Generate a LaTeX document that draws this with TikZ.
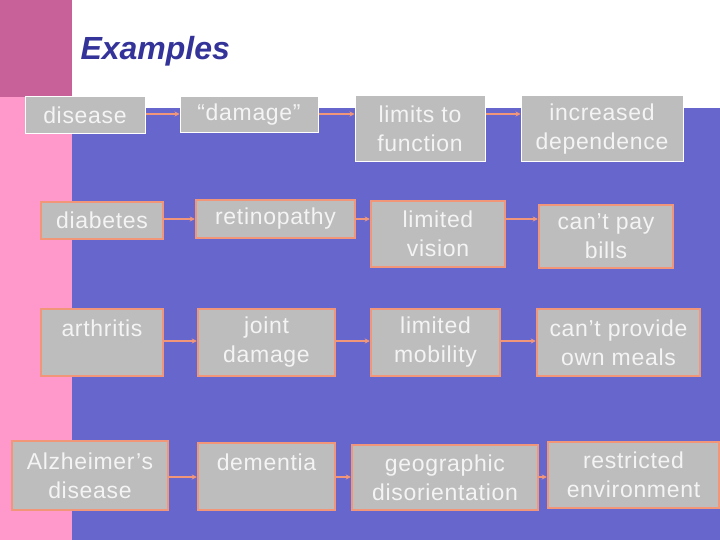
\documentclass[tikz,border=0pt]{standalone}
\usepackage{fontspec}
\setmainfont{Liberation Sans}
\usetikzlibrary{arrows.meta}
\definecolor{bgblue}{HTML}{6666CC}
\definecolor{dpink}{HTML}{C8609A}
\definecolor{lpink}{HTML}{FF99CC}
\definecolor{boxg}{HTML}{BDBDBD}
\definecolor{salmon}{HTML}{F2967A}
\definecolor{ttl}{HTML}{333399}
\definecolor{txt}{HTML}{F4F4F4}
\begin{document}
\begin{tikzpicture}[x=1pt,y=-1pt,
  bx/.style={fill=boxg,draw=salmon,line width=2.5pt,text=txt,font=\fontsize{23}{29}\selectfont\addfontfeature{LetterSpace=3},align=center,inner sep=0pt},
  tbx/.style={bx,draw=white,line width=1pt},
  ar/.style={draw=salmon,line width=1.5pt,-{Stealth[length=5pt,width=5pt]}}]
\useasboundingbox (0,0) rectangle (720,540);
\fill[white] (0,0) rectangle (720,540);
\fill[bgblue] (72,108) rectangle (720,540);
\fill[lpink] (0,97) rectangle (72,540);
\fill[dpink] (0,0) rectangle (72,97);
\node[anchor=west,text=ttl,font=\fontsize{32}{36}\selectfont\bfseries\itshape] (title) at (77,51) {Examples};
\newcommand\bxat[7]{\node[#1,minimum width=#4-#3,minimum height=#6-#5] (#2) at ({(#3+#4)/2},{(#5+#6)/2}) {#7};}
\bxat{tbx}{a1}{25}{145}{97}{134}{disease}
\bxat{tbx}{a2}{180}{318}{97}{133}{“damage”}
\bxat{tbx}{a3}{355}{485}{96}{162}{limits to\\function}
\bxat{tbx}{a4}{521}{683}{96}{162}{increased\\dependence}
\bxat{bx}{b1}{41}{163}{202}{239}{diabetes}
\bxat{bx}{b2}{196}{355}{200}{238}{retinopathy}
\bxat{bx}{b3}{371}{505}{201}{267}{limited\\vision}
\bxat{bx}{b4}{539}{673}{205}{268}{can’t pay\\bills}
\bxat{bx}{c1}{41}{163}{309}{376}{arthritis\\\mbox{}}
\bxat{bx}{c2}{198}{335}{309}{376}{joint\\damage}
\bxat{bx}{c3}{371}{500}{309}{376}{limited\\mobility}
\bxat{bx}{c4}{537}{700}{309}{376}{can’t provide\\own meals}
\bxat{bx}{d1}{12}{168}{441}{510}{Alzheimer’s\\disease}
\bxat{bx}{d2}{198}{335}{443}{510}{dementia\\\mbox{}}
\bxat{bx}{d3}{352}{538}{445}{510}{geographic\\disorientation}
\bxat{bx}{d4}{548}{719}{442}{508}{restricted\\environment}
\coordinate (ya) at (0,114);
\coordinate (yb) at (0,219);
\coordinate (yc) at (0,341);
\coordinate (yd) at (0,477);
\foreach \r in {a,b,c,d}{
  \draw[ar] (\r1.east |- y\r) -- (\r2.west |- y\r);
  \draw[ar] (\r2.east |- y\r) -- (\r3.west |- y\r);
  \draw[ar] (\r3.east |- y\r) -- (\r4.west |- y\r);
}
\end{tikzpicture}
\end{document}
